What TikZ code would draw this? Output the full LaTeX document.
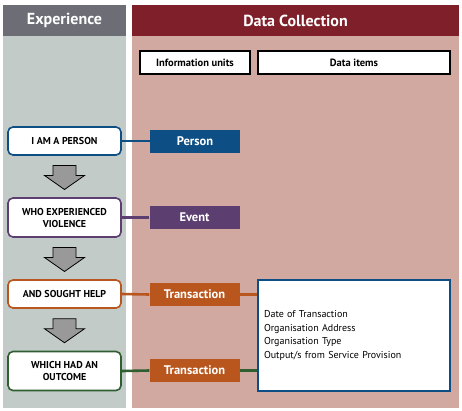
\documentclass[tikz,border=0pt]{standalone}
\usepackage{fontspec}
\setmainfont{PT Sans}
\usetikzlibrary{calc}
\definecolor{expgray}{RGB}{108,109,117}
\definecolor{expbg}{RGB}{195,203,200}
\definecolor{colred}{RGB}{127,31,41}
\definecolor{colbg}{RGB}{209,169,160}
\definecolor{myblue}{RGB}{13,79,133}
\definecolor{mypurple}{RGB}{92,63,112}
\definecolor{myorange}{RGB}{185,86,30}
\definecolor{mygreen}{RGB}{47,94,49}
\tikzset{
  expbox/.style={draw=#1,line width=1.6pt,rounded corners=5pt,fill=white,minimum width=113pt,minimum height=28pt,align=center,font=\fontsize{10}{12}\selectfont\bfseries,inner sep=2pt},
  unitbox/.style={fill=#1,minimum width=90pt,minimum height=23pt,text=white,font=\fontsize{12.5}{14}\selectfont\bfseries,inner sep=1pt},
  headbox/.style={draw,line width=1.4pt,fill=white,minimum height=23pt,font=\fontsize{10.5}{12}\selectfont\bfseries,inner sep=1pt},
  colhead/.style={text=white,font=\fontsize{16}{18}\selectfont\bfseries},
}
\begin{document}
\begin{tikzpicture}[x=1pt,y=-1pt,
    link/.style={line width=2.6pt,#1},
    downarr/.style={fill=black!40,draw=black,line width=0.8pt},
  ]
  \useasboundingbox (0,0) rectangle (462,410);

  % the two columns
  \fill[expbg] (3,36) rectangle (126,408);
  \fill[expgray] (3,5) rectangle (126,36);
  \fill[colbg] (132,36) rectangle (459,408);
  \fill[colred] (132,5) rectangle (459,36);
  \node[colhead] (hexp) at (64.5,20.5) {Experience};
  \node[colhead] (hdata) at (295.5,20.5) {Data Collection};

  \node[headbox,minimum width=110pt] (hunits) at (195,62.5) {Information units};
  \node[headbox,minimum width=192pt] (hitems) at (354,62.5) {Data items};

  % experience boxes
  \node[expbox=myblue] (e1) at (64.5,141) {I AM A PERSON};
  \node[expbox=mypurple,minimum height=39pt] (e2) at (64.5,217.5) {WHO EXPERIENCED\\VIOLENCE};
  \node[expbox=myorange] (e3) at (64.5,294) {AND SOUGHT HELP};
  \node[expbox=mygreen,minimum height=39pt] (e4) at (64.5,371) {WHICH HAD AN\\OUTCOME};

  % information units
  \node[unitbox=myblue] (u1) at (195,141) {Person};
  \node[unitbox=mypurple] (u2) at (194.5,217.5) {Event};
  \node[unitbox=myorange] (u3) at (194.5,294.5) {Transaction};
  \node[unitbox=myorange] (u4) at (194.5,370.5) {Transaction};

  % data items
  \node[draw=myblue,line width=1.6pt,fill=white,minimum width=192pt,minimum height=111pt,
        text width=180pt,align=left,font=\fontsize{10}{13.7}\selectfont] (items) at (354,335.5)
    {Date of Transaction\\Organisation Address\\Organisation Type\\Output/s from Service Provision};

  \draw[link=myblue] (e1.east) -- (u1.west);
  \draw[link=mypurple] (e2.east) -- (u2.west);
  \draw[link=myorange] (e3.east) -- (u3.west);
  \draw[link=myorange] (u3.east) -- (u3.east -| items.west);
  \draw[link=mygreen] (e4.east) -- (u4.west);
  \draw[link=mygreen] (u4.east) -- (u4.east -| items.west);

  % down arrows between the boxes
  \foreach \a/\b in {e1/e2,e2/e3,e3/e4}{
    \coordinate (m) at ($(\a.south)!0.5!(\b.north)$);
    \draw[downarr] ($(m)+(-11.5,-11)$) -- ++(23,0) -- ++(0,10) -- ++(8.5,0)
      -- ($(m)+(0,13)$) -- ($(m)+(-20,-1)$) -- ++(8.5,0) -- cycle;
  }
\end{tikzpicture}
\end{document}
